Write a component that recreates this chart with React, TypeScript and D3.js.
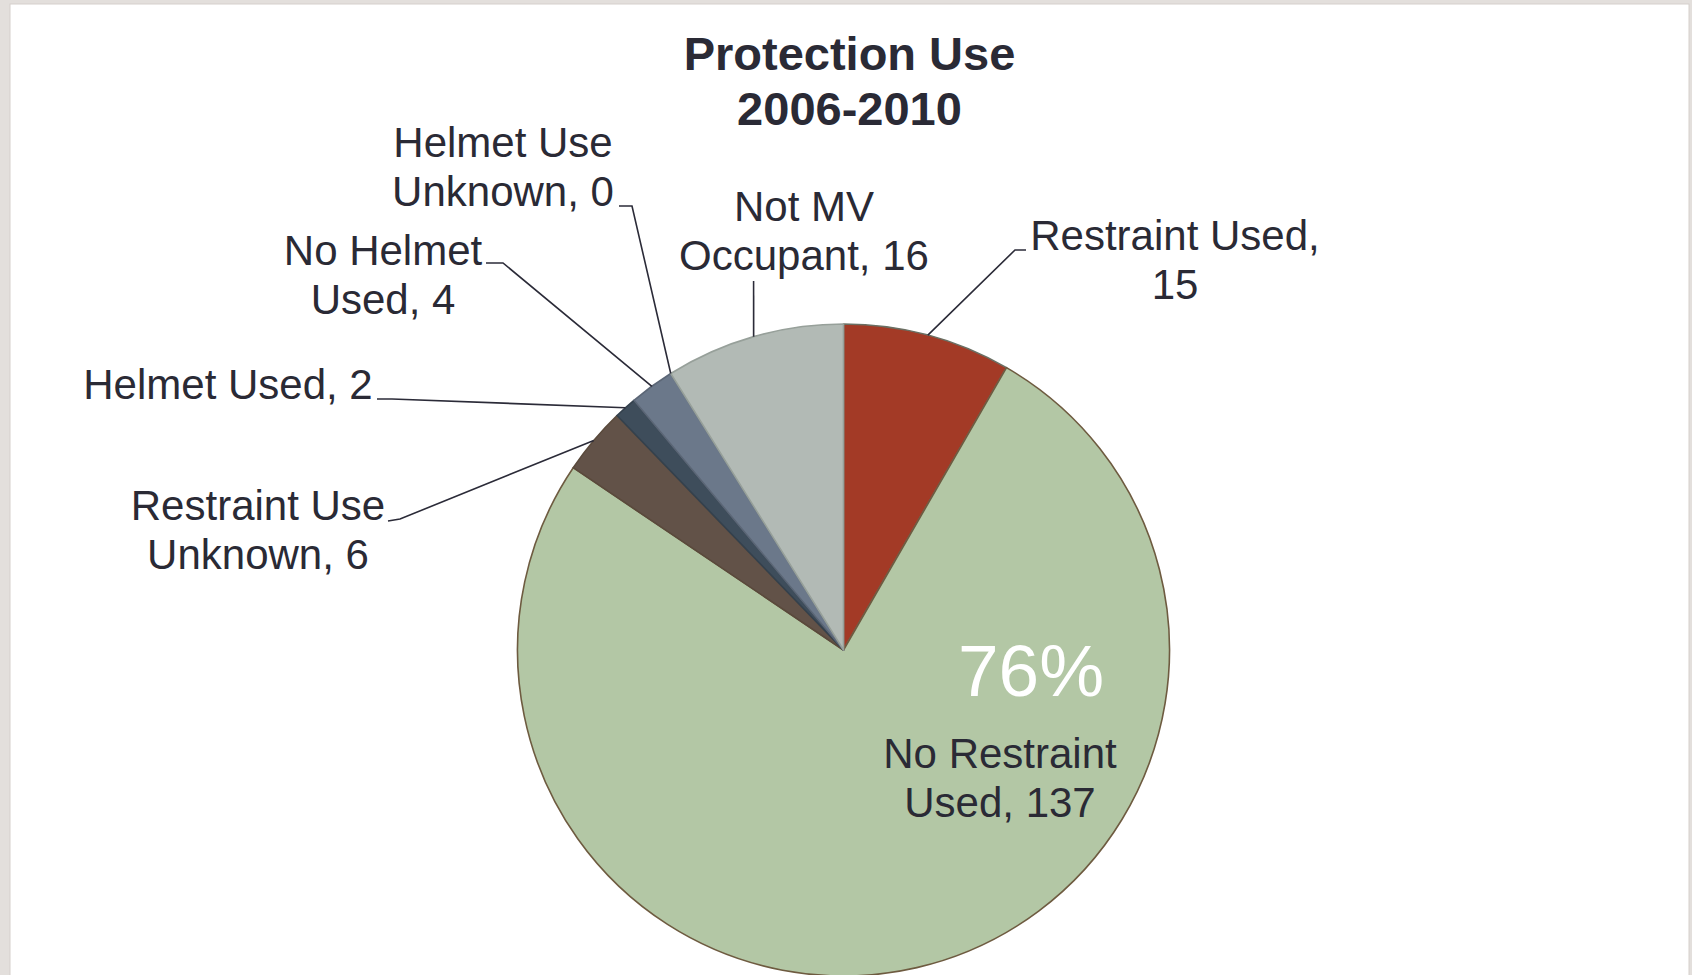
import { useMemo } from "react";
import * as d3 from "d3";

const WIDTH = 1692;
const HEIGHT = 975;
const CENTER = { x: 843.5, y: 650 };
const RADIUS = 326;
const FONT = "'Liberation Sans', Arial, sans-serif";
const TEXT_COLOR = "#2a2a35";

// slices, clockwise from 12 o'clock
const categories = [
  "Restraint Used",
  "No Restraint Used",
  "Restraint Use Unknown",
  "Helmet Used",
  "No Helmet Used",
  "Helmet Use Unknown",
  "Not MV Occupant",
];
const values = [15, 137, 6, 2, 4, 0, 16];
const colors = ["#a33a26", "#b3c7a5", "#625248", "#3e4d5b", "#6b788a", "#6b788a", "#b2bab5"];
const strokes = ["#6a6f63", "#6e5b40", "#5a4a3c", "#34414d", "#5b6676", "#5b6676", "#97a09a"];

// label placement: text centre, first baseline, leader elbow (null = no leader)
const labelLines = [
  ["Restraint Used,", "15"],
  ["No Restraint", "Used, 137"],
  ["Restraint Use", "Unknown, 6"],
  ["Helmet Used, 2"],
  ["No Helmet", "Used, 4"],
  ["Helmet Use", "Unknown, 0"],
  ["Not MV", "Occupant, 16"],
];
const labelLayout = [
  { x: 1175, y: 250, leader: [[1026, 250], [1015, 250]] },
  { x: 1000, y: 768, leader: null },
  { x: 258, y: 520, leader: [[388, 521], [400, 519]] },
  { x: 228, y: 399, leader: [[377, 399], [392, 399]] },
  { x: 383, y: 265, leader: [[486, 263], [503, 263]] },
  { x: 503, y: 157, leader: [[619, 206], [632, 206]] },
  { x: 804, y: 221, leader: [[753.6, 281]] },
];

export default function App() {
  const arcs = useMemo(
    () => d3.pie<number>().sort(null).value((d) => d)(values),
    []
  );
  const arc = d3.arc<d3.PieArcDatum<number>>().innerRadius(0).outerRadius(RADIUS);
  const edge = d3.arc<d3.PieArcDatum<number>>().innerRadius(RADIUS).outerRadius(RADIUS);
  const total = d3.sum(values);
  const pct = d3.format(".0%")(values[1] / total);

  return (
    <div style={{ position: "absolute", left: 0, top: 0 }}>
      <svg width={WIDTH} height={HEIGHT} style={{ display: "block" }}>
        <rect width={WIDTH} height={HEIGHT} fill="#e3dfdc" />
        <rect x={10} y={4} width={1679} height={HEIGHT} fill="#fff" stroke="#d6d0cb" />

        <g fontFamily={FONT} fontWeight="bold" fontSize={47} fill={TEXT_COLOR} textAnchor="middle">
          <text x={849.5} y={70}>Protection Use</text>
          <text x={849.5} y={125}>2006-2010</text>
        </g>

        <g transform={`translate(${CENTER.x},${CENTER.y})`}>
          {arcs.map((a, i) =>
            a.value > 0 ? (
              <path
                key={categories[i]}
                d={arc(a) ?? ""}
                fill={colors[i]}
                stroke={strokes[i]}
                strokeWidth={1.6}
                strokeLinejoin="round"
              />
            ) : null
          )}
        </g>

        {arcs.map((a, i) => {
          const lay = labelLayout[i];
          if (!lay.leader) return null;
          const [ex, ey] = edge.centroid(a);
          const pts = [...lay.leader, [ex + CENTER.x, ey + CENTER.y]];
          return (
            <polyline
              key={`l-${i}`}
              points={pts.map((p) => p.join(",")).join(" ")}
              fill="none"
              stroke="#2b2b38"
              strokeWidth={1.6}
            />
          );
        })}

        <g fontFamily={FONT} fontSize={42} fill={TEXT_COLOR} textAnchor="middle">
          {labelLines.map((lines, i) => (
            <text key={`t-${i}`} x={labelLayout[i].x} y={labelLayout[i].y}>
              {lines.map((s, j) => (
                <tspan key={j} x={labelLayout[i].x} dy={j === 0 ? 0 : 48.5}>
                  {s}
                </tspan>
              ))}
            </text>
          ))}
        </g>

        <text x={1031} y={696} fontFamily={FONT} fontSize={73} fill="#fff" textAnchor="middle">
          {pct}
        </text>
      </svg>
    </div>
  );
}
